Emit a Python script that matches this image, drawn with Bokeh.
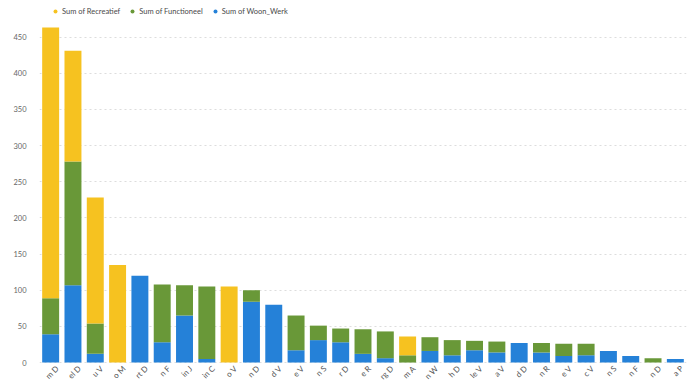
import math
from bokeh.plotting import figure
from bokeh.layouts import column
from bokeh.core.properties import value
from bokeh.models import ColumnDataSource, FixedTicker, Legend, LegendItem, Range1d
from bokeh.embed import file_html
from bokeh.resources import INLINE

labels = ["m D", "el D", "u V", "o M", "rt D", "n F", "in J", "in C", "o V", "n D",
          "d V", "e V", "n S", "r D", "e R", "rg D", "m A", "n W", "h D", "le V",
          "a V", "d D", "n R", "e V", "c V", "n S", "n F", "n D", "a P"]
woon_werk = [39, 107, 12, 0, 120, 28, 65, 5, 0, 84, 80, 17, 31, 28, 12, 6, 0, 16, 10, 17,
             14, 27, 14, 9, 10, 16, 9, 0, 5]
functioneel = [50, 171, 42, 0, 0, 80, 42, 100, 0, 16, 0, 48, 20, 19, 34, 37, 10, 19, 21, 13,
               15, 0, 13, 17, 16, 0, 0, 6, 0]
recreatief = [374, 153, 174, 135, 0, 0, 0, 0, 105, 0, 0, 0, 0, 0, 0, 0, 26, 0, 0, 0,
              0, 0, 0, 0, 0, 0, 0, 0, 0]
y_ticks = [0, 50, 100, 150, 200, 250, 300, 350, 400, 450]
series_names = ["Sum of Recreatief", "Sum of Functioneel", "Sum of Woon_Werk"]

YELLOW = "#F6C220"
GREEN = "#699838"
BLUE = "#2581D8"
FONT = "Lato"
TXT = "#666666"

n = len(labels)
src = ColumnDataSource(dict(x=list(range(n)), woon=woon_werk, func=functioneel, rec=recreatief,
                            label=labels, base=[0] * n))

# ---- legend strip ----
pl = figure(width=690, height=18, output_backend="svg", toolbar_location=None,
            x_range=Range1d(0, 1), y_range=Range1d(0, 1),
            min_border_left=0, min_border_right=0, min_border_top=0, min_border_bottom=0)
pl.axis.visible = False
pl.grid.visible = False
pl.outline_line_color = None
dummies = [pl.scatter(x=[-5], y=[-5], marker="circle", size=8, color=c, line_alpha=0)
           for c in [YELLOW, GREEN, BLUE]]
legend = Legend(items=[LegendItem(label=nm, renderers=[r]) for nm, r in zip(series_names, dummies)],
                orientation="horizontal", location=(11, 2))
legend.label_text_font = FONT
legend.label_text_font_size = "7.5px"
legend.label_text_color = "#4a4a4a"
legend.glyph_width = 10
legend.glyph_height = 10
legend.label_standoff = 2
legend.spacing = 7
legend.padding = 0
legend.margin = 0
legend.label_height = 10
legend.border_line_alpha = 0
legend.background_fill_alpha = 0
pl.add_layout(legend, "center")

# ---- main chart ----
p = figure(width=690, height=364, output_backend="svg", toolbar_location=None,
           x_range=Range1d(-0.5, n - 0.5), y_range=Range1d(-27.6, 475.6),
           min_border_left=39, min_border_right=4, min_border_top=0, min_border_bottom=0)
p.outline_line_color = None

p.vbar_stack(["woon", "func", "rec"], x="x", width=0.76, source=src,
             color=[BLUE, GREEN, YELLOW], line_alpha=0)

p.text(x="x", y="base", text="label", source=src, angle=math.pi / 4,
       text_align="right", text_baseline="top", x_offset=3, y_offset=1,
       text_font=value(FONT), text_font_size=value("8px"), text_color="#555555")

p.xaxis.visible = False

p.yaxis.ticker = FixedTicker(ticks=y_ticks)
p.yaxis.axis_line_color = None
p.yaxis.major_tick_line_color = None
p.yaxis.minor_tick_line_color = None
p.yaxis.major_label_text_font = FONT
p.yaxis.major_label_text_font_size = "7.5px"
p.yaxis.major_label_text_color = TXT
p.yaxis.major_label_standoff = 7

p.xgrid.grid_line_color = None
p.ygrid.grid_line_color = "#dddddd"
p.ygrid.grid_line_dash = "2 3"
p.ygrid.grid_line_width = 1

layout = column(pl, p, spacing=0)
open("out.html", "w").write(file_html(layout, INLINE))
